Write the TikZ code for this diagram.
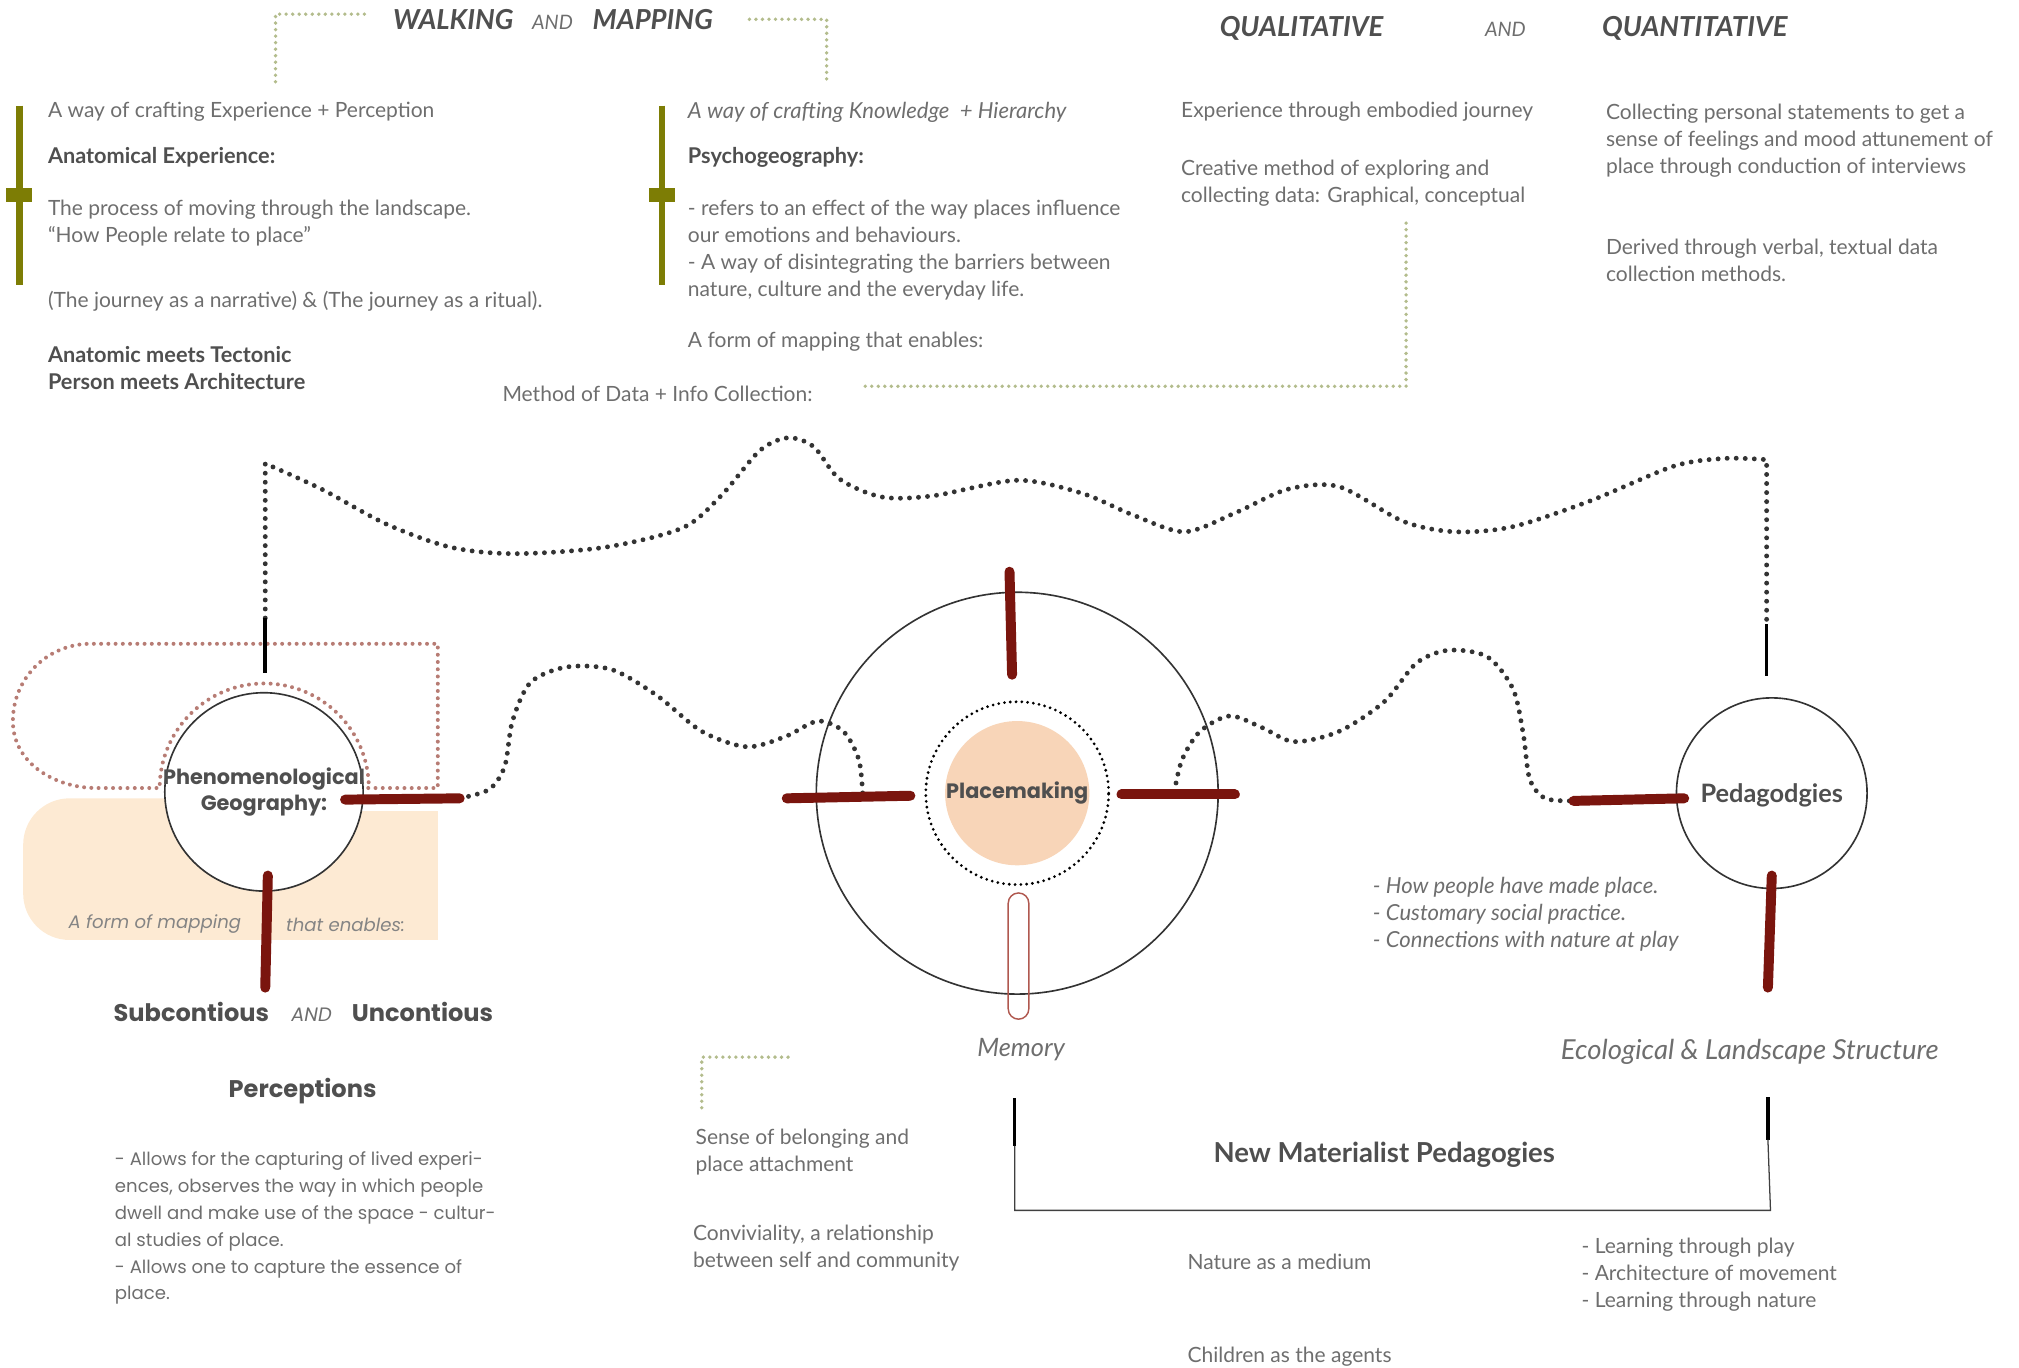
\documentclass[tikz,border=0pt]{standalone}
\usepackage{fontspec}
\setmainfont{Lato}
\newfontfamily\geo{Poppins}
\usepackage{tikz}

\definecolor{txtgray}{HTML}{6E6E6E}
\definecolor{headgray}{HTML}{4F4F4F}
\definecolor{olivebar}{HTML}{7D7D05}
\definecolor{sage}{HTML}{B3BC8C}
\definecolor{rosedots}{HTML}{B77C74}
\definecolor{oxblood}{HTML}{7A150E}
\definecolor{pillred}{HTML}{B0584F}
\definecolor{peachpale}{HTML}{FDEAD3}
\definecolor{peachcore}{HTML}{F8D5B8}
\definecolor{inkdots}{HTML}{333333}

\tikzstyle{bodytxt} = [anchor=west, inner sep=0pt, align=left, text=txtgray, font=\fontsize{11.6pt}{14.9pt}\selectfont]
\tikzstyle{bodybold} = [bodytxt, text=headgray, font=\bfseries\fontsize{12pt}{14.9pt}\selectfont]
\tikzstyle{bodyit} = [bodytxt, font=\itshape\fontsize{12.2pt}{14.9pt}\selectfont]
\tikzstyle{headline} = [anchor=west, inner sep=0pt, text=headgray, font=\bfseries\itshape\fontsize{15.2pt}{17pt}\selectfont]
\tikzstyle{andword} = [anchor=west, inner sep=0pt, text=txtgray, font=\itshape\fontsize{11pt}{12pt}\selectfont]
\tikzstyle{hub} = [circle, draw=black!80, line width=0.9pt, fill=white, minimum size=3.85cm, inner sep=0pt]
\tikzstyle{geolabel} = [align=center, inner sep=0pt, text=headgray, font=\geo\bfseries\fontsize{11.5pt}{14pt}\selectfont]
\tikzstyle{geobody} = [anchor=west, align=left, inner sep=0pt, text=txtgray, font=\geo\fontsize{10pt}{14.8pt}\selectfont]
\tikzstyle{redbar} = [draw=oxblood, line width=5.5pt, line cap=round]
\tikzstyle{blackstub} = [draw=black, line width=2pt]
\tikzstyle{wander} = [draw=inkdots, line width=2.7pt, line cap=round, dash pattern=on 0pt off 5pt]
\tikzstyle{sagedots} = [draw=sage, line width=2.1pt, line cap=round, dash pattern=on 0pt off 3.6pt]
\tikzstyle{rosedot} = [draw=rosedots, line width=2.2pt, line cap=round, dash pattern=on 0pt off 4pt]
\tikzstyle{basebracket} = [draw=black!75, line width=0.7pt]

\begin{document}
\begin{tikzpicture}[x=0.025cm, y=-0.025cm]
\useasboundingbox (0,0) rectangle (1568,1062);

% headings
\node (walk) [headline] at (305,15) {WALKING};
\node (and1) [andword] at (413,17) {AND};
\node (mapp) [headline] at (460,15) {MAPPING};
\coordinate (walkfoot) at (214,65);
\coordinate (mapfoot) at (642,62);
\draw[sagedots] (283,11) -| (walkfoot);
\draw[sagedots] (582,15) -| (mapfoot);

\node (qual) [headline] at (947,22) {QUALITATIVE};
\node (and2) [andword] at (1153,23) {AND};
\node (quan) [headline] at (1244,22) {QUANTITATIVE};

% olive markers
\draw[olivebar, line width=3.6pt] (15,82) -- (15,221);
\fill[olivebar] (5,146) rectangle (25,157);
\draw[olivebar, line width=3.6pt] (514,82) -- (514,221);
\fill[olivebar] (504,146) rectangle (524,157);

% walking column
\node (craft1) [bodytxt] at (37,87) {A way of crafting Experience + Perception};
\node (anat) [bodybold] at (37,122) {Anatomical Experience:};
\node (process) [bodytxt] at (37,173.5) {The process of moving through the landscape.\\``How People relate to place''};
\node (journey) [bodytxt] at (37,234) {(The journey as a narrative) \& (The journey as a ritual).};
\node (tectonic) [bodybold] at (37,285.5) {Anatomic meets Tectonic\\Person meets Architecture};

% mapping column
\node (craft2) [bodyit] at (534,87) {A way of crafting Knowledge\ \ + Hierarchy};
\node (psycho) [bodybold] at (534,122) {Psychogeography:};
\node (effect) [bodytxt] at (534,194.5) {- refers to an effect of the way places influence\\our emotions and behaviours.\\- A way of disintegrating the barriers between\\nature, culture and the everyday life.};
\node (enable1) [bodytxt] at (534,265) {A form of mapping that enables:};
\node (method) [bodytxt] at (390,306) {Method of Data + Info Collection:};

% qualitative / quantitative
\node (embody) [bodytxt] at (917,87) {Experience through embodied journey};
\node (creative) [bodytxt] at (917,142.5) {Creative method of exploring and\\collecting data: Graphical, conceptual};
\node (statement) [bodytxt] at (1247,109.5) {Collecting personal statements to get a\\sense of feelings and mood attunement of\\place through conduction of interviews};
\node (verbal) [bodytxt] at (1247,202.5) {Derived through verbal, textual data\\collection methods.};
\coordinate (creativefoot) at (1092,170);
\draw[sagedots] (672,300) -| (creativefoot);

% phenomenological geography
\fill[peachpale] (340,630) -- (180,630) -- (180,620) [rounded corners=0.9cm] -- (18,620) -- (18,730) [sharp corners] -- (340,730) -- cycle;
\draw[rosedot] (286,612) -- (340,612) -- (340,500) -- (70,500) to[out=180,in=90] (10,560) to[out=-90,in=180] (75,612) -- (124,612) arc[start angle=180, end angle=0, radius=2.03cm];
\node (pheno) [hub] at (205,615) {};
\node (phenolabel) [geolabel] at (pheno) {Phenomenological\\Geography:};
\node (enable2) [anchor=west, inner sep=0pt, text=txtgray!85, font=\geo\itshape\fontsize{10pt}{12pt}\selectfont] at (53,718) {A form of mapping};
\node (enable3) [anchor=west, inner sep=0pt, text=txtgray!85, font=\geo\itshape\fontsize{10pt}{12pt}\selectfont] at (222,718) {that enables:};

% placemaking
\node (place) [hub, minimum size=7.8cm] at (790,616) {};
\node (core) [circle, fill=peachcore, minimum size=2.8cm, inner sep=0pt] at (place) {};
\node (ring) [circle, draw=black, line width=1.7pt, line cap=round, dash pattern=on 0pt off 3.2pt, minimum size=3.55cm, inner sep=0pt] at (place) {};
\node (placelabel) [geolabel] at (place) {Placemaking};
\node (memorypill) [rectangle, rounded corners=0.2cm, draw=pillred, line width=0.8pt, minimum width=0.4cm, minimum height=2.45cm, inner sep=0pt] at (791,742.5) {};

% pedagogies
\node (peda) [hub, minimum size=3.7cm] at (1376,616) {};
\node (pedalabel) [anchor=center, inner sep=0pt, text=headgray, font=\bfseries\fontsize{14pt}{16pt}\selectfont] at (1376,618) {Pedagodgies};

% dotted journeys
\coordinate (phtop) at (206,480);
\coordinate (pdtop) at (1372,485);
\coordinate (phE) at (357,620);
\coordinate (plW) at (670,617);
\coordinate (plE) at (912,615);
\coordinate (pdW) at (1222,622);
\draw[wander] (phtop) -- (206,360) -- plot[smooth] coordinates {(206,360) (250,380) (300,407) (350,425) (400,430) (470,425) (530,410) (560,385) (590,350) (612,340) (632,347) (652,372) (685,386) (725,385) (790,373) (840,383) (880,400) (920,413) (960,398) (1000,380) (1040,378) (1090,405) (1130,413) (1175,409) (1235,389) (1300,362) (1340,356) (1372,357)} -- (pdtop);
\draw[wander] plot[smooth] coordinates {(phE) (380,613) (392,595) (398,560) (412,530) (440,518) (475,520) (510,540) (545,568) (580,580) (610,572) (635,560) (655,568) (667,590) (plW)};
\draw[wander] plot[smooth] coordinates {(plE) (918,590) (932,568) (955,556) (980,565) (1005,576) (1040,568) (1075,545) (1100,515) (1125,505) (1155,510) (1175,535) (1183,570) (1188,605) (1200,620) (pdW)};

% stubs and bars
\draw[blackstub] (phtop) -- (206,523);
\draw[blackstub] (pdtop) -- (1372,525);
\draw[redbar] (268,621) -- (phE);
\draw[redbar] (208,680) -- (206,767);
\draw[redbar] (784,444) -- (786,524);
\draw[redbar] (611,620) -- (707,618);
\draw[redbar] (871,617) -- (959,617);
\draw[redbar] (pdW) -- (1308,620);
\draw[redbar] (1376,680) -- (1373,767);

% perceptions
\node (subcon) [anchor=west, inner sep=0pt, text=headgray, font=\geo\bfseries\fontsize{13.3pt}{15pt}\selectfont] at (88,786) {Subcontious};
\node (and3) [anchor=west, inner sep=0pt, text=txtgray, font=\geo\itshape\fontsize{10.7pt}{12pt}\selectfont] at (226,788) {AND};
\node (uncon) [anchor=west, inner sep=0pt, text=headgray, font=\geo\bfseries\fontsize{13.3pt}{15pt}\selectfont] at (273,786) {Uncontious};
\node (percep) [geolabel, font=\geo\bfseries\fontsize{13.3pt}{15pt}\selectfont] at (235,847) {Perceptions};
\node (allows) [geobody] at (89,954) {- Allows for the capturing of lived experi-\\ences, observes the way in which people\\dwell and make use of the space - cultur-\\al studies of place.\\- Allows one to capture the essence of\\place.};

% memory side
\node (memory) [inner sep=0pt, text=txtgray, font=\itshape\fontsize{14pt}{16pt}\selectfont] at (793,815) {Memory};
\coordinate (belongfoot) at (545,865);
\draw[sagedots] (612,821) -| (belongfoot);
\node (belong) [bodytxt] at (540,895) {Sense of belonging and\\place attachment};
\node (convivial) [bodytxt] at (538,969) {Conviviality, a relationship\\between self and community};

% pedagogy side
\node (madeplace) [bodyit] at (1066,710) {- How people have made place.\\- Customary social practice.\\- Connections with nature at play};
\node (ecolog) [anchor=west, inner sep=0pt, text=txtgray, font=\itshape\fontsize{15.2pt}{17pt}\selectfont] at (1212,817) {Ecological \& Landscape Structure};

% new materialist bracket
\coordinate (memfoot) at (788,890);
\coordinate (ecofoot) at (1373,885);
\draw[blackstub] (788,853) -- (memfoot);
\draw[blackstub] (1373,852) -- (ecofoot);
\draw[basebracket] (memfoot) -- (788,940) -- (1375,940) -- (ecofoot);
\node (newmat) [inner sep=0pt, text=headgray, font=\bfseries\fontsize{15.2pt}{17pt}\selectfont] at (1075,897) {New Materialist Pedagogies};
\node (medium) [bodytxt] at (922,980) {Nature as a medium};
\node (agents) [bodytxt] at (922,1054) {Children as the agents};
\node (learning) [bodytxt] at (1228,990) {- Learning through play\\- Architecture of movement\\- Learning through nature};

\end{tikzpicture}
\end{document}
